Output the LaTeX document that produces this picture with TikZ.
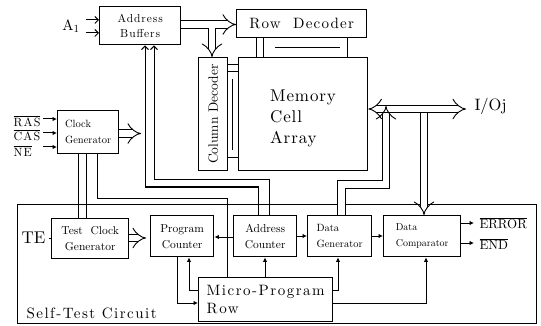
\documentclass[tikz,border=0pt]{standalone}
\usepackage{fontspec}
\setmainfont{lmroman10-regular}[Extension=.otf]
\newfontfamily\lsfive{lmroman10-regular}[Extension=.otf,LetterSpace=5]
\newfontfamily\lseight{lmroman10-regular}[Extension=.otf,LetterSpace=8]
\newfontfamily\lsten{lmroman10-regular}[Extension=.otf,LetterSpace=10]
\usetikzlibrary{arrows.meta}
\begin{document}
\begin{tikzpicture}[x=1pt,y=-1pt,
 box/.style={draw,line width=1.4pt,inner sep=0pt,align=center,anchor=north west},
 conn/.style={line width=1pt},
 bus/.style={line width=0.9pt,double,double distance=6.5pt},
 barb/.style={conn,-{Straight Barb[length=3.5pt,width=7pt]}},
 fin/.style={conn,-{Latex[length=4.5pt,width=4.5pt]}},
 smallf/.style={font=\fontsize{11.5}{16}\selectfont},
 bigf/.style={font=\lsten\fontsize{15}{18}\selectfont}
]
\useasboundingbox (0,0) rectangle (541,326);

% self-test frame
\node[draw,line width=1.2pt,minimum width=519,minimum height=119,anchor=north west,inner sep=0pt] (st) at (17,204) {};

% boxes
\node[box,minimum width=81,minimum height=38,font=\lseight\fontsize{11.5}{15}\selectfont] (ab) at (99,6) {Address\\Buffers};
\node[box,minimum width=130,minimum height=28,font=\lseight\fontsize{15}{18}\selectfont] (rd) at (236,9) {Row\ \ Decoder};
\node[box,minimum width=29,minimum height=113] (cd) at (198,57) {};
\node[rotate=90,font=\fontsize{13.5}{16}\selectfont] (cdt) at (cd.center) {Column Decoder};
\node[box,minimum width=129,minimum height=113] (mem) at (238,57) {};
\node[align=left,font=\lsfive\fontsize{17}{21}\selectfont] (memt) at (303,118) {Memory\\Cell\\Array};
\node[box,minimum width=61,minimum height=43,align=left,font=\fontsize{10.5}{16}\selectfont] (cg) at (57,110) {Clock\\Generator};
\node[box,minimum width=77,minimum height=40,smallf] (tcg) at (51,218) {Test\ \ Clock\\Generator};
\node[box,minimum width=63,minimum height=41,smallf] (pc) at (150,215) {Program\\Counter};
\node[box,minimum width=63,minimum height=41,smallf] (ac) at (233,215) {Address\\Counter};
\node[box,minimum width=64,minimum height=41,align=left,font=\fontsize{10.5}{16}\selectfont] (dg) at (307,215) {Data\\Generator};
\node[box,minimum width=77,minimum height=41,align=left,font=\fontsize{10}{16}\selectfont] (dc) at (383,215) {Data\\Comparator};
\node[box,minimum width=134,minimum height=44,align=left,bigf] (mpr) at (198,277) {Micro-Program\\Row};

% labels
\node[anchor=west,bigf] (stl) at (23,313) {Self-Test Circuit};
\node[anchor=west,font=\fontsize{16.5}{20}\selectfont] (iol) at (471,106) {I/Oj};
\node[anchor=west,font=\fontsize{17}{20}\selectfont] (te) at (18,238) {TE};
\node[anchor=west,font=\fontsize{13}{16}\selectfont] (err) at (476,223) {$\overline{\mbox{ERROR}}$};
\node[anchor=west,font=\fontsize{13}{16}\selectfont] (endl) at (476,244) {$\overline{\mbox{END}}$};
\node[font=\fontsize{15}{18}\selectfont] (a1) at (71,26) {A$_1$};
\node[anchor=west,font=\lsten\fontsize{12}{14}\selectfont] (ras) at (10,121) {$\overline{\mbox{RAS}}$};
\node[anchor=west,font=\lsten\fontsize{12}{14}\selectfont] (cas) at (10,135) {$\overline{\mbox{CAS}}$};
\node[anchor=west,font=\lsten\fontsize{12}{14}\selectfont] (ne) at (10,151) {$\overline{\mbox{NE}}$};

% free-end coordinates
\coordinate (a1a) at (86,20);
\coordinate (a1b) at (86,33);
\coordinate (rasi) at (43,119);
\coordinate (casi) at (43,133);
\coordinate (nei) at (43,147);
\coordinate (cdj) at (212,27.75);
\coordinate (cgo) at (141,133.5);
\coordinate (pcin) at (146,238);
\coordinate (iob) at (466,109);
\coordinate (dgup) at (386,106);
\coordinate (dcj) at (424,112.75);
\coordinate (erro) at (474,223);
\coordinate (endo) at (474,243);

% inputs
\draw[barb] (a1a) -- (a1a -| ab.west);
\draw[barb] (a1b) -- (a1b -| ab.west);
\draw[fin] (rasi) -- (rasi -| cg.west);
\draw[fin] (casi) -- (casi -| cg.west);
\draw[fin] (nei) -- (nei -| cg.west);
\draw[conn] (te.east) -- (te.east -| tcg.west);

% buses
\draw[bus,-Implies] (ab.east |- 0,24.5) -- (rd.west |- 0,24.5);
\draw[bus,-Implies] (cdj) -- (cd.north -| cdj);
\draw[bus,-Implies] (cg.east |- cgo) -- (cgo);
\draw[bus,-Implies] (tcg.east |- pcin) -- (pcin);
\draw[bus,Implies-Implies] (mem.east |- iob) -- (iob);
\draw[bus,-Implies] (dg.north -| 341.5,0) |- (386,184.5) -- (dgup);
\draw[bus,-Implies] (dcj) -- (dc.north -| dcj);

% row decoder / column decoder to memory
\draw[conn] (rd.south -| 256,0) -- (mem.north -| 256,0);
\draw[conn] (rd.south -| 263,0) -- (mem.north -| 263,0);
\draw[conn] (rd.south -| 347,0) -- (mem.north -| 347,0);
\draw[conn] (275,47.5) -- (340,47.5);
\draw[conn] (cd.east |- 0,65) -- (mem.west |- 0,65);
\draw[conn] (cd.east |- 0,72) -- (mem.west |- 0,72);
\draw[conn] (cd.east |- 0,158) -- (mem.west |- 0,158);
\draw[conn] (232.5,79) -- (232.5,150);

% clock generator links
\draw[conn] (cg.south -| 78,0) -- (tcg.north -| 78,0);
\draw[conn] (cg.south -| 86,0) -- (tcg.north -| 86,0);
\draw[conn] (cg.south -| 97,0) |- (227,198) -- (mpr.north -| 227,0);

% address counter to address buffers
\draw[barb] (ac.north -| 258,0) |- (145,187) -- (ab.south -| 145,0);
\draw[barb] (ac.north -| 269,0) |- (154,180) -- (ab.south -| 154,0);

% counters chain
\draw[fin] (ac.west |- 0,237) -- (pc.east |- 0,237);
\draw[fin] (ac.east |- 0,236) -- (dg.west |- 0,236);
\draw[fin] (dg.east |- 0,236) -- (dc.west |- 0,236);

% micro-program row links
\draw[fin] (pc.south -| 177,0) |- (mpr.west |- 0,303);
\draw[fin] (mpr.west |- 0,290) -| (pc.south -| 189,0);
\draw[fin] (mpr.north -| 265,0) -- (ac.south -| 265,0);
\draw[fin] (mpr.east |- 0,290) -| (dg.south -| 338,0);
\draw[fin] (mpr.east |- 0,303) -| (dc.south -| 426,0);

% outputs
\draw[fin] (dc.east |- erro) -- (erro);
\draw[fin] (dc.east |- endo) -- (endo);
\end{tikzpicture}
\end{document}
